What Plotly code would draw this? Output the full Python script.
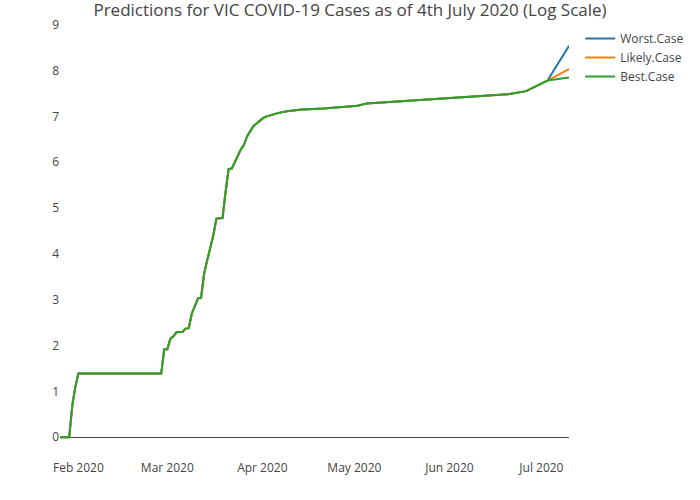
import plotly.graph_objects as go

# observed log(cases) shared by all three scenarios
obs_dates = [
    '2020-01-26', '2020-01-27', '2020-01-28', '2020-01-29', '2020-01-30', '2020-01-31',
    '2020-02-01', '2020-02-28', '2020-02-29', '2020-03-01', '2020-03-02', '2020-03-03',
    '2020-03-04', '2020-03-05', '2020-03-06', '2020-03-07', '2020-03-08', '2020-03-09',
    '2020-03-10', '2020-03-11', '2020-03-12', '2020-03-13', '2020-03-14', '2020-03-15',
    '2020-03-16', '2020-03-17', '2020-03-18', '2020-03-19', '2020-03-20', '2020-03-21',
    '2020-03-22', '2020-03-23', '2020-03-24', '2020-03-25', '2020-03-26', '2020-03-27',
    '2020-03-28', '2020-03-29', '2020-03-30', '2020-03-31', '2020-04-01', '2020-04-02',
    '2020-04-03', '2020-04-04', '2020-04-06', '2020-04-09', '2020-04-14', '2020-04-21',
    '2020-04-28', '2020-05-02', '2020-05-05', '2020-05-25', '2020-06-13', '2020-06-20',
    '2020-06-26', '2020-07-03',
]
obs_log_cases = [
    0.0, 0.0, 0.0, 0.0, 0.69, 1.10,
    1.39, 1.39, 1.92, 1.92, 2.15, 2.20,
    2.29, 2.29, 2.30, 2.37, 2.38, 2.70,
    2.88, 3.03, 3.04, 3.57, 3.86, 4.10,
    4.40, 4.77, 4.78, 4.78, 5.35, 5.85,
    5.86, 6.02, 6.14, 6.28, 6.38, 6.56,
    6.68, 6.78, 6.84, 6.90, 6.95, 6.99,
    7.01, 7.03, 7.07, 7.11, 7.15, 7.17,
    7.20, 7.23, 7.28, 7.36, 7.44, 7.48,
    7.55, 7.78,
]

# one week ahead predictions
pred_date = '2020-07-10'
worst_case = 8.54
likely_case = 8.03
best_case = 7.85

scenarios = ['Worst.Case', 'Likely.Case', 'Best.Case']
scenario_end = [worst_case, likely_case, best_case]
colors = ['#1f77b4', '#ff7f0e', '#2ca02c']

fig = go.Figure()

for name, end_val, col in zip(scenarios, scenario_end, colors):
    fig.add_trace(go.Scatter(
        x=obs_dates + [pred_date],
        y=obs_log_cases + [end_val],
        mode='lines',
        name=name,
        line=dict(color=col, width=2),
    ))

fig.update_layout(
    template='none',
    width=700,
    height=500,
    title=dict(text='Predictions for VIC COVID-19 Cases as of 4th July 2020 (Log Scale)',
               x=0.5, xanchor='center', y=0.979, yanchor='middle',
               font=dict(size=17, color='#444')),
    font=dict(family='Open Sans', size=12, color='#444'),
    margin=dict(l=60, r=130, t=24, b=41),
    plot_bgcolor='white',
    paper_bgcolor='white',
    legend=dict(x=1.02, y=1, xanchor='left', yanchor='top'),
)
fig.update_xaxes(showgrid=False, zeroline=False, showline=False, ticks='', dtick='M1',
                 tickformat='%b %Y')
fig.update_yaxes(showgrid=False, zeroline=True, zerolinecolor='#444', zerolinewidth=1,
                 showline=False, ticks='', dtick=1)

# page sits flush with the window edge, like the original widget
fig.write_html('out.html', config={'displayModeBar': False},
               post_script="document.body.style.margin='0';")
